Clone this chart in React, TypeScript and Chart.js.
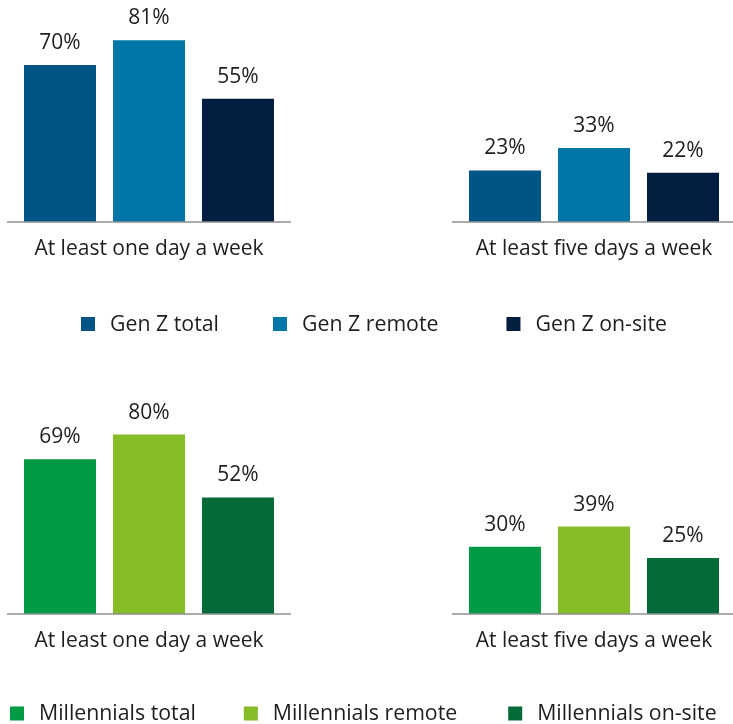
import React, { useEffect, useRef } from "react";
import { Chart, registerables } from "chart.js";

Chart.register(...registerables);

// ---- data ----
const categories = ["At least one day a week", "At least five days a week"];

const genZSeries = ["Gen Z total", "Gen Z remote", "Gen Z on-site"];
const genZTotal = [70, 23];
const genZRemote = [81, 33];
const genZOnsite = [55, 22];

const millSeries = ["Millennials total", "Millennials remote", "Millennials on-site"];
const millTotal = [69, 30];
const millRemote = [80, 39];
const millOnsite = [52, 25];

// ---- styles ----
const genZColors = ["#005587", "#0076A8", "#041E42"];
const millColors = ["#009A44", "#86BC25", "#046A38"];
const FONT = "'Open Sans', 'Noto Sans', sans-serif";
const TEXT = "#1e1e1e";
const FONT_SIZE = 21;
const LEGEND_FONT_SIZE = 21.3;
const PLOT_H = 222;
const Y_MAX = 99;

const baselinePlugin = {
  id: "groupBaselines",
  afterDatasetsDraw(chart: any) {
    const ctx = chart.ctx;
    const n = chart.data.labels.length;
    const metas = chart.getSortedVisibleDatasetMetas();
    const y = chart.chartArea.bottom;
    for (let i = 0; i < n; i++) {
      let left = Infinity;
      let right = -Infinity;
      const xs: number[] = [];
      let w = 0;
      metas.forEach((m: any) => {
        const el = m.data[i];
        if (!el) return;
        const p = el.getProps(["x", "width"], true);
        left = Math.min(left, p.x - p.width / 2);
        right = Math.max(right, p.x + p.width / 2);
        xs.push(p.x);
        w = p.width;
      });
      xs.sort((a, b) => a - b);
      const gap = xs.length > 1 ? xs[1] - xs[0] - w : 0;
      ctx.save();
      ctx.strokeStyle = "#8f8f8f";
      ctx.lineWidth = 1.5;
      ctx.beginPath();
      ctx.moveTo(left - gap, y);
      ctx.lineTo(right + gap, y);
      ctx.stroke();
      ctx.restore();
    }
  },
};

const valueLabelPlugin = {
  id: "valueLabels",
  afterDatasetsDraw(chart: any) {
    const ctx = chart.ctx;
    ctx.save();
    ctx.font = `${FONT_SIZE}px ${FONT}`;
    ctx.fillStyle = TEXT;
    ctx.textAlign = "center";
    ctx.textBaseline = "alphabetic";
    chart.getSortedVisibleDatasetMetas().forEach((m: any) => {
      const ds = chart.data.datasets[m.index];
      m.data.forEach((el: any, j: number) => {
        const p = el.getProps(["x", "y"], true);
        ctx.fillText(`${ds.data[j]}%`, p.x, p.y - 16);
      });
    });
    ctx.restore();
  },
};

const legendPlugin = {
  id: "boxLegend",
  afterDraw(chart: any, _args: any, opts: any) {
    const ctx = chart.ctx;
    ctx.save();
    ctx.font = `${LEGEND_FONT_SIZE}px ${FONT}`;
    const box = 14;
    const textOffset = 29;
    let x = opts.start;
    const y = opts.y;
    chart.data.datasets.forEach((ds: any, i: number) => {
      const w = ctx.measureText(ds.label).width;
      ctx.fillStyle = ds.backgroundColor;
      ctx.fillRect(x, y - box / 2, box, box);
      ctx.fillStyle = TEXT;
      ctx.textAlign = "left";
      ctx.textBaseline = "middle";
      ctx.fillText(ds.label, x + textOffset, y + 0.5);
      x += textOffset + w + (opts.gaps[i] ?? 0);
    });
    ctx.restore();
  },
};

type PanelProps = {
  series: string[];
  values: number[][];
  colors: string[];
  top: number;
  height: number;
  legendY: number;
  legendStart: number;
  legendGaps: number[];
};

function Panel(props: PanelProps) {
  const ref = useRef<HTMLCanvasElement | null>(null);
  useEffect(() => {
    if (!ref.current) return;
    const H = props.height;
    const chart = new Chart(ref.current, {
      type: "bar",
      data: {
        labels: categories,
        datasets: props.series.map((s, i) => ({
          label: s,
          data: props.values[i],
          backgroundColor: props.colors[i],
          borderWidth: 0,
          categoryPercentage: 0.6,
          barPercentage: 0.809,
          clip: false as any,
        })),
      },
      options: {
        responsive: false,
        animation: false,
        events: [],
        layout: { padding: { left: 149, right: 139, top: 0, bottom: 0 } },
        plugins: {
          legend: { display: false },
          tooltip: { enabled: false },
          title: { display: false },
          boxLegend: {
            y: props.legendY,
            start: props.legendStart,
            gaps: props.legendGaps,
          },
        } as any,
        scales: {
          x: {
            type: "category",
            offset: false,
            grid: { display: false, drawTicks: false },
            border: { display: false },
            ticks: {
              font: { family: FONT, size: FONT_SIZE },
              color: TEXT,
              padding: 14,
              maxRotation: 0,
              minRotation: 0,
              autoSkip: false,
            },
            afterFit: (scale: any) => {
              scale.height = H - PLOT_H;
            },
          },
          y: {
            display: false,
            min: 0,
            max: Y_MAX,
          },
        },
      },
      plugins: [baselinePlugin, valueLabelPlugin, legendPlugin],
    });
    return () => chart.destroy();
  }, []);
  return (
    <canvas
      ref={ref}
      width={733}
      height={props.height}
      style={{ position: "absolute", left: 0, top: props.top, display: "block" }}
    />
  );
}

export default function App() {
  return (
    <div
      style={{
        position: "absolute",
        left: 0,
        top: 0,
        width: 733,
        height: 724,
        background: "#ffffff",
        overflow: "hidden",
      }}
    >
      <Panel
        series={genZSeries}
        values={[genZTotal, genZRemote, genZOnsite]}
        colors={genZColors}
        top={0}
        height={392}
        legendY={324}
        legendStart={81}
        legendGaps={[54, 68]}
      />
      <Panel
        series={millSeries}
        values={[millTotal, millRemote, millOnsite]}
        colors={millColors}
        top={392}
        height={332}
        legendY={321.5}
        legendStart={10}
        legendGaps={[48, 51]}
      />
    </div>
  );
}
